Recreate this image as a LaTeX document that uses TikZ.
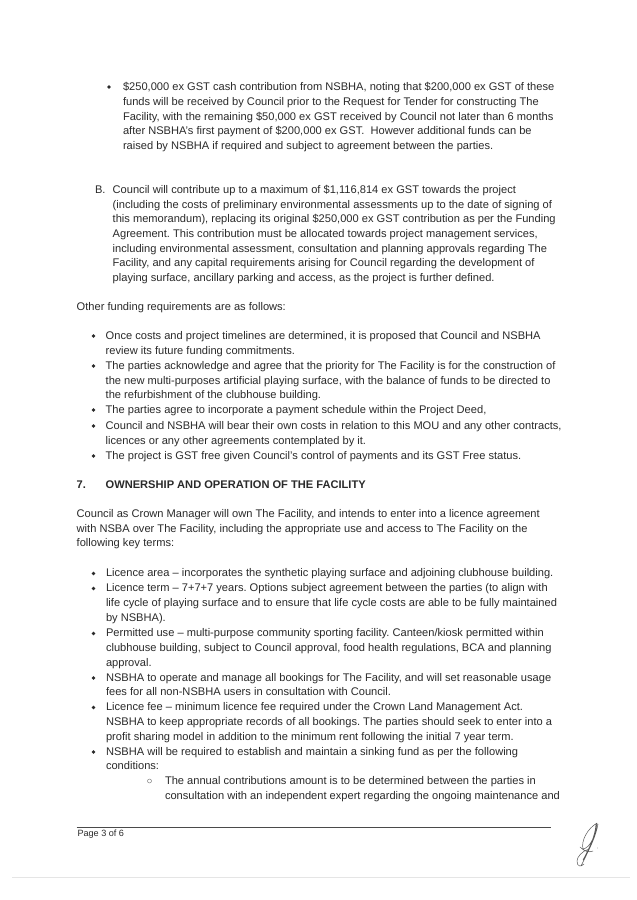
\documentclass[tikz,border=0pt]{standalone}
\usepackage{fontspec}
\setmainfont{Liberation Sans}
\definecolor{ink}{HTML}{2A2A2A}
\tikzset{
  ln/.style={anchor=base west,inner sep=0pt,outer sep=0pt,text=ink,font=\fontsize{11.1}{13}\selectfont},
  dot/.style={circle,fill=ink,inner sep=0pt,minimum size=3.6pt},
  odot/.style={circle,draw=ink!70,line width=.4pt,inner sep=0pt,minimum size=4pt},
}
\begin{document}
\frenchspacing
\begin{tikzpicture}[x=1pt,y=-1pt]
\useasboundingbox (0,0) rectangle (637,900);
\fill[white] (0,0) rectangle (637,900);
\node[dot] (b1) at (109,87) {};
\node[ln] (a1) at (123,90.7) {\$250,000 ex GST cash contribution from NSBHA, noting that \$200,000 ex GST of these};
\node[ln] (a2) at (123,105.3) {funds will be received by Council prior to the Request for Tender for constructing The};
\node[ln] (a3) at (123,120) {Facility, with the remaining \$50,000 ex GST received by Council not later than 6 months};
\node[ln] (a4) at (123,134.7) {after NSBHA's first payment of \$200,000 ex GST.\ \ However additional funds can be};
\node[ln] (a5) at (123,149.3) {raised by NSBHA if required and subject to agreement between the parties.};
\node[ln] (bb) at (95,193.3) {B.};
\node[ln] (c1) at (112.7,193.3) {Council will contribute up to a maximum of \$1,116,814 ex GST towards the project};
\node[ln] (c2) at (112.7,208) {(including the costs of preliminary environmental assessments up to the date of signing of};
\node[ln] (c3) at (112.7,222.7) {this memorandum), replacing its original \$250,000 ex GST contribution as per the Funding};
\node[ln] (c4) at (112.7,237.3) {Agreement. This contribution must be allocated towards project management services,};
\node[ln] (c5) at (112.7,252) {including environmental assessment, consultation and planning approvals regarding The};
\node[ln] (c6) at (112.7,266.7) {Facility, and any capital requirements arising for Council regarding the development of};
\node[ln] (c7) at (112.7,281.3) {playing surface, ancillary parking and access, as the project is further defined.};
\node[ln] (o1) at (76.7,310) {Other funding requirements are as follows:};
\node[dot] (b2) at (93.5,336) {};
\node[ln] (d1) at (105.7,339.3) {Once costs and project timelines are determined, it is proposed that Council and NSBHA};
\node[ln] (d2) at (105.7,354.3) {review its future funding commitments.};
\node[dot] (b3) at (93.5,366) {};
\node[ln] (d3) at (105.7,369.3) {The parties acknowledge and agree that the priority for The Facility is for the construction of};
\node[ln] (d4) at (105.7,384) {the new multi-purposes artificial playing surface, with the balance of funds to be directed to};
\node[ln] (d5) at (105.7,398.7) {the refurbishment of the clubhouse building.};
\node[dot] (b4) at (93.5,410) {};
\node[ln] (d6) at (105.7,413.3) {The parties agree to incorporate a payment schedule within the Project Deed,};
\node[dot] (b5) at (93.5,426) {};
\node[ln] (d7) at (105.7,429.3) {Council and NSBHA will bear their own costs in relation to this MOU and any other contracts,};
\node[ln] (d8) at (105.7,444) {licences or any other agreements contemplated by it.};
\node[dot] (b6) at (93.5,456) {};
\node[ln] (d9) at (105.7,459.3) {The project is GST free given Council's control of payments and its GST Free status.};
\node[ln,font=\fontsize{11.1}{13}\selectfont\bfseries] (s7) at (76.7,488.3) {7.};
\node[ln,font=\fontsize{11.1}{13}\selectfont\bfseries] (st) at (105.7,488.3) {OWNERSHIP AND OPERATION OF THE FACILITY};
\node[ln] (e1) at (76.7,517.7) {Council as Crown Manager will own The Facility, and intends to enter into a licence agreement};
\node[ln] (e2) at (76.7,532.3) {with NSBA over The Facility, including the appropriate use and access to The Facility on the};
\node[ln] (e3) at (76.7,546.7) {following key terms:};
\node[dot] (b7) at (93.5,573.5) {};
\node[ln] (f1) at (106,576.7) {Licence area -- incorporates the synthetic playing surface and adjoining clubhouse building.};
\node[dot] (b8) at (93.5,588.5) {};
\node[ln] (f2) at (106,591.7) {Licence term -- 7+7+7 years. Options subject agreement between the parties (to align with};
\node[ln] (f3) at (106,606.7) {life cycle of playing surface and to ensure that life cycle costs are able to be fully maintained};
\node[ln] (f4) at (106,621.7) {by NSBHA).};
\node[dot] (b9) at (93.5,633.5) {};
\node[ln] (f5) at (106,636.7) {Permitted use -- multi-purpose community sporting facility. Canteen/kiosk permitted within};
\node[ln] (f6) at (106,651.3) {clubhouse building, subject to Council approval, food health regulations, BCA and planning};
\node[ln] (f7) at (106,666) {approval.};
\node[dot] (b10) at (93.5,678) {};
\node[ln] (f8) at (106,681.3) {NSBHA to operate and manage all bookings for The Facility, and will set reasonable usage};
\node[ln] (f9) at (106,695.7) {fees for all non-NSBHA users in consultation with Council.};
\node[dot] (b11) at (93.5,707.5) {};
\node[ln] (f10) at (106,710.7) {Licence fee -- minimum licence fee required under the Crown Land Management Act.};
\node[ln] (f11) at (106,725.3) {NSBHA to keep appropriate records of all bookings. The parties should seek to enter into a};
\node[ln] (f12) at (106,740) {profit sharing model in addition to the minimum rent following the initial 7 year term.};
\node[dot] (b12) at (93.5,752) {};
\node[ln] (f13) at (106,755.3) {NSBHA will be required to establish and maintain a sinking fund as per the following};
\node[ln] (f14) at (106,769.3) {conditions:};
\node[odot] (b13) at (149.5,781) {};
\node[ln] (g1) at (165,784.3) {The annual contributions amount is to be determined between the parties in};
\node[ln] (g2) at (165,799) {consultation with an independent expert regarding the ongoing maintenance and};
\coordinate (rl) at (76.7,827);
\coordinate (rr) at (550.5,827);
\draw[ink!85,line width=.8pt] (rl) -- (rr);
\node[ln,font=\fontsize{9.1}{11}\selectfont] (pg) at (77.5,836.7) {Page 3 of 6};
\draw[black!10,line width=.9pt] (12,877.3) -- (630,877.3);
\draw[black!65,line width=.5pt,line cap=round,line join=round]
  (597,823) .. controls (587,829) and (581,841) .. (583,849) .. controls (590,848) and (596,835) .. (597,823)
  (598,824) .. controls (596,836) and (590,848) .. (581,866)
  (596,824) .. controls (595,838) and (588,850) .. (583,860)
  (589,849) .. controls (582,851) and (577,857) .. (577,861) .. controls (577,867) and (581,867) .. (584,864)
  (580,847) .. controls (584,851) and (589,853) .. (593,851);
\fill[black!50] (597.5,848) circle (.4pt);
\end{tikzpicture}
\end{document}
